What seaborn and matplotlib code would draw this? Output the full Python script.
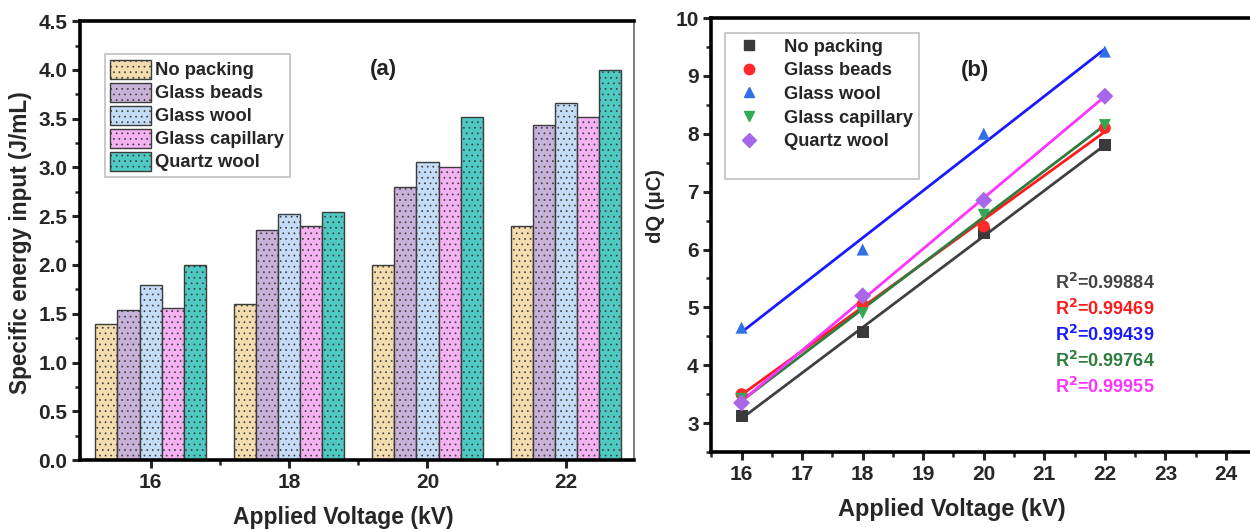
import numpy as np
import pandas as pd
import matplotlib
matplotlib.use("Agg")
import matplotlib.pyplot as plt
import matplotlib.patches as mpatches
from matplotlib.lines import Line2D
from matplotlib.ticker import MultipleLocator
import seaborn as sns

# ---------------- data ----------------
voltages = [16, 18, 20, 22]
packings = ["No packing", "Glass beads", "Glass wool", "Glass capillary", "Quartz wool"]

sei_no_packing = [1.40, 1.60, 2.00, 2.40]
sei_glass_beads = [1.54, 2.36, 2.80, 3.44]
sei_glass_wool = [1.80, 2.52, 3.06, 3.66]
sei_glass_capillary = [1.56, 2.40, 3.00, 3.52]
sei_quartz_wool = [2.00, 2.54, 3.52, 4.00]

dq_no_packing = [3.12, 4.57, 6.28, 7.80]
dq_glass_beads = [3.50, 5.05, 6.40, 8.10]
dq_glass_wool = [4.65, 6.00, 8.00, 9.42]
dq_glass_capillary = [3.42, 4.90, 6.60, 8.15]
dq_quartz_wool = [3.35, 5.20, 6.85, 8.65]

r2_labels = ["0.99884", "0.99469", "0.99439", "0.99764", "0.99955"]

bar_colors = ["#f3dcae", "#c9b2d9", "#c4dcf6", "#f5b2f3", "#4ecac2"]
marker_colors = ["#3a3a3a", "#ff2a2a", "#2f6fe8", "#33a852", "#a866e8"]
line_colors = ["#404040", "#ff1a1a", "#1a1aff", "#2e7d3e", "#ff33ff"]
r2_colors = ["#444444", "#ff1a1a", "#1a1aff", "#2e7d3e", "#ff33ff"]
markers = ["s", "o", "^", "v", "D"]

sei_series = [sei_no_packing, sei_glass_beads, sei_glass_wool, sei_glass_capillary, sei_quartz_wool]
dq_series = [dq_no_packing, dq_glass_beads, dq_glass_wool, dq_glass_capillary, dq_quartz_wool]

df_a = pd.DataFrame({
    "Voltage": np.repeat(voltages, len(packings)).tolist(),
    "Packing": packings * len(voltages),
    "SEI": [sei_series[j][i] for i in range(len(voltages)) for j in range(len(packings))],
})
df_b = pd.DataFrame({
    "Voltage": voltages * len(packings),
    "Packing": np.repeat(packings, len(voltages)).tolist(),
    "dQ": [v for s in dq_series for v in s],
})

# ---------------- style ----------------
sns.set_theme(style="ticks")
plt.rcParams["font.family"] = ["Liberation Sans", "DejaVu Sans"]
plt.rcParams["font.weight"] = "bold"
plt.rcParams["hatch.color"] = "#7a7a7a"
plt.rcParams["hatch.linewidth"] = 0.5

TICK_FS = 15
LABEL_FS = 17
LEG_FS = 13.2

fig = plt.figure(figsize=(12.5, 5.3), dpi=100)
ax1 = fig.add_axes([0.064, 0.132, 0.443, 0.828])
ax2 = fig.add_axes([0.569, 0.147, 0.436, 0.819])

def style_axes(ax):
    for side in ["left", "bottom", "top"]:
        ax.spines[side].set_linewidth(2.6)
        ax.spines[side].set_color("black")
    ax.spines["right"].set_linewidth(1.2)
    ax.spines["right"].set_color("#666666")
    ax.tick_params(which="major", direction="out", length=6, width=2.2,
                   labelsize=TICK_FS, top=False, right=False, pad=3)
    ax.tick_params(which="minor", direction="out", length=3.5, width=1.8,
                   top=False, right=False)
    for lab in ax.get_xticklabels() + ax.get_yticklabels():
        lab.set_fontweight("bold")

# ---------------- panel (a) ----------------
sns.barplot(data=df_a, x="Voltage", y="SEI", hue="Packing", hue_order=packings,
            palette=bar_colors, width=0.8, edgecolor="#3c3c3c", linewidth=1.0,
            saturation=1, ax=ax1, legend=False)
for patch in ax1.patches:
    patch.set_hatch("...")
ax1.set_ylim(0, 4.5)
ax1.set_xlim(-0.51, 3.49)
ax1.yaxis.set_major_locator(MultipleLocator(0.5))
ax1.yaxis.set_minor_locator(MultipleLocator(0.25))
ax1.set_xticks([0, 1, 2, 3])
ax1.set_xticks([0.5, 1.5, 2.5], minor=True)
ax1.set_xticklabels([str(v) for v in voltages])
ax1.set_ylabel("Specific energy input (J/mL)", fontsize=16.3, fontweight="bold")
ax1.set_xlabel("Applied Voltage (kV)", fontsize=16.5, fontweight="bold")
ax1.yaxis.set_label_coords(-0.086, 0.495)
ax1.xaxis.set_label_coords(0.476, -0.104)
style_axes(ax1)
handles_a = [mpatches.Patch(facecolor=c, edgecolor="#3c3c3c", hatch="...", label=p)
             for c, p in zip(bar_colors, packings)]
leg1 = ax1.legend(handles=handles_a, loc="upper left", bbox_to_anchor=(0.045, 0.925),
                  frameon=True, fancybox=False, edgecolor="#b0b0b0",
                  prop={"weight": "bold", "size": LEG_FS}, handlelength=2.2,
                  handleheight=1.25, handletextpad=0.25, labelspacing=0.17,
                  borderpad=0.3, borderaxespad=0)
leg1.get_frame().set_linewidth(1.2)
ax1.text(1.68, 4.0, "(a)", fontsize=16, fontweight="bold", ha="center", va="center",
         color="#222222")

# ---------------- panel (b) ----------------
sns.scatterplot(data=df_b, x="Voltage", y="dQ", hue="Packing", style="Packing",
                hue_order=packings, style_order=packings,
                palette=marker_colors, markers=markers, s=75, linewidth=0,
                ax=ax2, legend=False, zorder=3)
for p, lc in zip(packings, line_colors):
    sub = df_b[df_b["Packing"] == p]
    sns.regplot(data=sub, x="Voltage", y="dQ", scatter=False, ci=None, truncate=True,
                color=lc, line_kws={"linewidth": 2.0, "zorder": 2}, ax=ax2)
ax2.set_xlim(15.5, 24.5)
ax2.set_ylim(2.5, 10)
ax2.xaxis.set_major_locator(MultipleLocator(1))
ax2.xaxis.set_minor_locator(MultipleLocator(0.5))
ax2.yaxis.set_major_locator(MultipleLocator(1))
ax2.yaxis.set_minor_locator(MultipleLocator(0.5))
ax2.set_ylabel("dQ (μC)", fontsize=14.5, fontweight="bold")
ax2.set_xlabel("Applied Voltage (kV)", fontsize=LABEL_FS, fontweight="bold")
ax2.yaxis.set_label_coords(-0.085, 0.567)
ax2.xaxis.set_label_coords(0.441, -0.106)
style_axes(ax2)
handles_b = [Line2D([], [], linestyle="none", marker=m, color=c, markersize=7.5, label=p)
             for m, c, p in zip(markers, marker_colors, packings)]
handles_b.append(Line2D([], [], linestyle="none", marker=None, label=" "))
leg2 = ax2.legend(handles=handles_b, loc="upper left", bbox_to_anchor=(0.026, 0.965),
                  frameon=True, fancybox=False, edgecolor="#b0b0b0",
                  prop={"weight": "bold", "size": LEG_FS}, handlelength=2.0,
                  handletextpad=0.9, labelspacing=0.36, borderpad=0.3, borderaxespad=0)
leg2.get_frame().set_linewidth(1.2)
ax2.text(19.85, 9.1, "(b)", fontsize=16, fontweight="bold", ha="center", va="center",
         color="#222222")
r2_y = [5.42, 4.98, 4.53, 4.08, 3.63]
for lbl, col, yy in zip(r2_labels, r2_colors, r2_y):
    ax2.text(21.17, yy, r"R$^{\mathbf{2}}$=" + lbl, fontsize=13, fontweight="bold",
             color=col, ha="left", va="center")

fig.savefig("out.png", dpi=100)
